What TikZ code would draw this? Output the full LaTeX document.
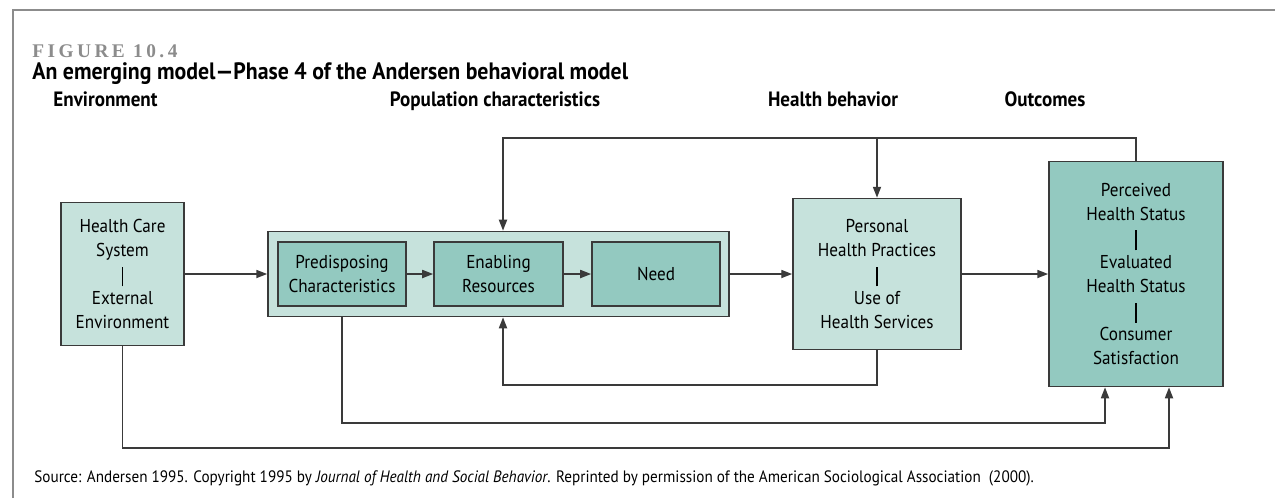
\documentclass[tikz,border=0pt]{standalone}
\usepackage{fontspec}
\setmainfont{PT Sans}[FakeStretch=0.92]
\newfontfamily\headfont{PT Sans}[FakeStretch=0.92]
\newfontfamily\figfont{Liberation Serif}[LetterSpace=18]
\usetikzlibrary{arrows.meta}
\definecolor{tealLight}{HTML}{C6E2DC}
\definecolor{tealDark}{HTML}{93C9C0}
\definecolor{boxLine}{HTML}{3A3A3A}
\definecolor{frameGray}{HTML}{8C8C8C}
\newcommand{\sepbar}{\rule[-0.32em]{0.9pt}{1.07em}}

\begin{document}
\begin{tikzpicture}[x=0.02cm, y=-0.02cm,
    box/.style={draw=boxLine, line width=1pt, align=center, inner sep=0pt,
      font=\fontsize{10.6}{13.7}\selectfont},
    lightbox/.style={box, fill=tealLight},
    darkbox/.style={box, fill=tealDark},
    flow/.style={draw=boxLine, line width=0.85pt, -{Triangle[length=6.2pt, width=4.6pt]}},
    heading/.style={anchor=base, inner sep=0pt, font=\headfont\bfseries\fontsize{11.8}{14}\selectfont}]
  \useasboundingbox (0,0) rectangle (1275,498);
  \draw[frameGray, line width=1.7pt] (13,498) |- (1275,10);

  \node[anchor=base west, inner sep=0pt, text=frameGray,
        font=\figfont\bfseries\fontsize{11}{12}\selectfont] (fig) at (32,57) {FIGURE 10.4};
  \node[anchor=base west, inner sep=0pt, font=\headfont\bfseries\fontsize{13.5}{14}\selectfont] (title) at (32,79)
      {An emerging model—Phase 4 of the Andersen behavioral model};

  \node[heading] (hEnv) at (105.5,106) {Environment};
  \node[heading] (hPop) at (495,106) {Population characteristics};
  \node[heading] (hBeh) at (833,106) {Health behavior};
  \node[heading] (hOut) at (1045,106) {Outcomes};

  \node[lightbox, minimum width=2.46cm, minimum height=2.86cm] (env) at (122.5,274)
      {Health Care\\System\\\sepbar\\External\\Environment};
  \node[lightbox, minimum width=9.22cm, minimum height=1.70cm] (pop) at (498.5,274) {};
  \node[darkbox, minimum width=2.56cm, minimum height=1.28cm] (pre) at (342,274) {Predisposing\\Characteristics};
  \node[darkbox, minimum width=2.58cm, minimum height=1.28cm] (ena) at (498.5,274) {Enabling\\Resources};
  \node[darkbox, minimum width=2.56cm, minimum height=1.28cm] (need) at (656,274) {Need};
  \node[lightbox, minimum width=3.36cm, minimum height=3.02cm] (beh) at (877,274)
      {Personal\\Health Practices\\\sepbar\\Use of\\Health Services};
  \node[darkbox, minimum width=3.48cm, minimum height=4.50cm] (out) at (1136,274)
      {Perceived\\Health Status\\\sepbar\\Evaluated\\Health Status\\\sepbar\\Consumer\\Satisfaction};

  \foreach \a/\b in {env/pop, pre/ena, ena/need, pop/beh, beh/out}
    \draw[flow] (\a) -- (\b);

  \coordinate (topL) at (503,138);
  \coordinate (botL) at (503,385);
  \coordinate (preLow) at (1105,423);
  \coordinate (envLow) at (1169,448);
  \draw[flow] (out.north) |- (topL) -- (topL |- pop.north);
  \draw[flow] (beh.north |- topL) -- (beh.north);
  \draw[flow] (beh.south) |- (botL) -- (botL |- pop.south);
  \draw[flow] (pre.south |- pop.south) |- (preLow) -- (preLow |- out.south);
  \draw[flow] (env.south) |- (envLow) -- (envLow |- out.south);

  \node[anchor=base west, inner sep=0pt, font=\fontsize{9.4}{11}\selectfont] (src) at (34,482)
      {Source: Andersen 1995. Copyright 1995 by \textit{Journal of Health and Social Behavior}. Reprinted by permission of the American Sociological Association\ \ (2000).};
\end{tikzpicture}
\end{document}
